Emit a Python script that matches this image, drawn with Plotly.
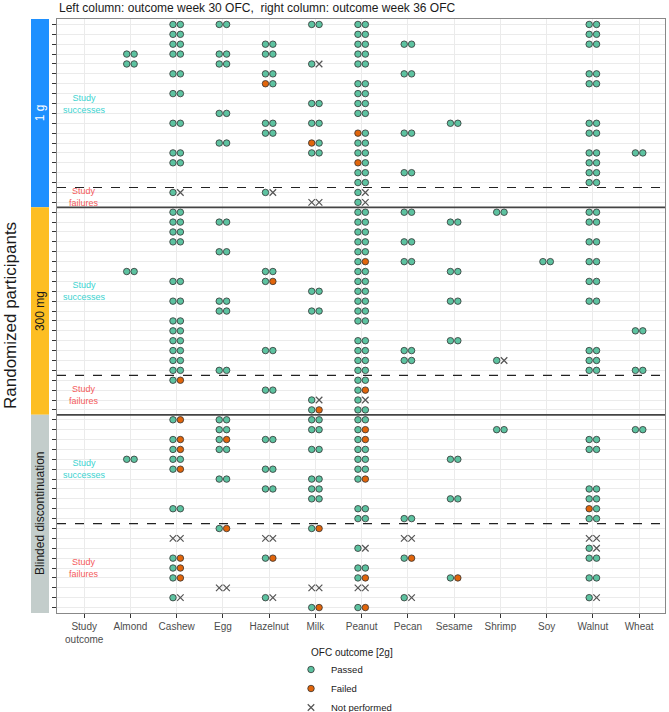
import plotly.graph_objects as go

# ---------------- data ----------------
foods = ["Study outcome", "Almond", "Cashew", "Egg", "Hazelnut", "Milk", "Peanut",
         "Pecan", "Sesame", "Shrimp", "Soy", "Walnut", "Wheat"]
tick_labels = ["Study<br>outcome", "Almond", "Cashew", "Egg", "Hazelnut", "Milk", "Peanut",
               "Pecan", "Sesame", "Shrimp", "Soy", "Walnut", "Wheat"]

# each row = one participant; value = week-30 code + week-36 code
# P = passed, F = failed, X = not performed
g1_success = [
    {"Cashew": "PP", "Egg": "PP", "Milk": "PP", "Peanut": "PP", "Walnut": "PP"},
    {"Cashew": "PP", "Peanut": "PP", "Walnut": "PP"},
    {"Cashew": "PP", "Hazelnut": "PP", "Peanut": "PP", "Pecan": "PP", "Walnut": "PP"},
    {"Almond": "PP", "Cashew": "PP", "Egg": "PP", "Hazelnut": "PP", "Peanut": "PP"},
    {"Almond": "PP", "Egg": "PP", "Milk": "PX", "Peanut": "PP"},
    {"Cashew": "PP", "Hazelnut": "PP", "Pecan": "PP", "Walnut": "PP"},
    {"Hazelnut": "FP", "Peanut": "PP", "Walnut": "PP"},
    {"Cashew": "PP", "Peanut": "PP"},
    {"Milk": "PP", "Peanut": "PP"},
    {"Egg": "PP", "Peanut": "PP"},
    {"Cashew": "PP", "Hazelnut": "PP", "Milk": "PP", "Sesame": "PP", "Walnut": "PP"},
    {"Hazelnut": "PP", "Peanut": "FP", "Pecan": "PP", "Walnut": "PP"},
    {"Egg": "PP", "Milk": "FP", "Peanut": "PP"},
    {"Cashew": "PP", "Milk": "PP", "Peanut": "PP", "Walnut": "PP", "Wheat": "PP"},
    {"Cashew": "PP", "Peanut": "FP", "Walnut": "PP"},
    {"Peanut": "PP", "Pecan": "PP", "Walnut": "PP"},
    {"Peanut": "PP", "Walnut": "PP"},
]
g1_failure = [
    {"Cashew": "PX", "Hazelnut": "PX", "Peanut": "PX"},
    {"Milk": "XX", "Peanut": "PX"},
]
g300_success = [
    {"Cashew": "PP", "Peanut": "PP", "Pecan": "PP", "Shrimp": "PP", "Walnut": "PP"},
    {"Cashew": "PP", "Egg": "PP", "Peanut": "PP", "Sesame": "PP", "Walnut": "PP"},
    {"Cashew": "PP", "Peanut": "PP"},
    {"Cashew": "PP", "Peanut": "PP", "Pecan": "PP", "Walnut": "PP"},
    {"Egg": "PP", "Peanut": "PP"},
    {"Peanut": "PF", "Pecan": "PP", "Soy": "PP", "Walnut": "PP"},
    {"Almond": "PP", "Hazelnut": "PP", "Peanut": "PP", "Sesame": "PP"},
    {"Cashew": "PP", "Hazelnut": "PF", "Peanut": "PP", "Walnut": "PP"},
    {"Milk": "PP", "Peanut": "PP"},
    {"Cashew": "PP", "Egg": "PP", "Peanut": "PP", "Sesame": "PP", "Walnut": "PP"},
    {"Egg": "PP", "Milk": "PP", "Peanut": "PP"},
    {"Cashew": "PP", "Peanut": "PP"},
    {"Cashew": "PP", "Wheat": "PP"},
    {"Cashew": "PP", "Peanut": "PP", "Sesame": "PP"},
    {"Cashew": "PP", "Hazelnut": "PP", "Peanut": "PP", "Pecan": "PP", "Walnut": "PP"},
    {"Cashew": "PP", "Peanut": "PP", "Pecan": "PP", "Shrimp": "PX", "Walnut": "PP"},
    {"Cashew": "PP", "Egg": "PP", "Peanut": "PP", "Walnut": "PP", "Wheat": "PP"},
]
g300_failure = [
    {"Cashew": "PF", "Peanut": "PP"},
    {"Hazelnut": "PP", "Peanut": "PF"},
    {"Milk": "PX", "Peanut": "PX"},
    {"Milk": "PF", "Peanut": "PP"},
]
blind_success = [
    {"Cashew": "PF", "Egg": "PP", "Milk": "PP", "Peanut": "PP"},
    {"Egg": "PP", "Milk": "PP", "Peanut": "PF", "Shrimp": "PP", "Wheat": "PP"},
    {"Cashew": "PF", "Egg": "PF", "Hazelnut": "PP", "Peanut": "PF", "Walnut": "PP"},
    {"Cashew": "PF", "Egg": "PP", "Milk": "PP", "Peanut": "PP", "Walnut": "PP"},
    {"Almond": "PP", "Cashew": "PP", "Peanut": "PP", "Sesame": "PP"},
    {"Cashew": "PF", "Hazelnut": "PP", "Peanut": "PP"},
    {"Egg": "PP", "Milk": "PP", "Peanut": "PF"},
    {"Hazelnut": "PP", "Milk": "PP", "Walnut": "PP"},
    {"Milk": "PP", "Sesame": "PP", "Walnut": "PP"},
    {"Cashew": "PP", "Peanut": "PP", "Walnut": "FP"},
    {"Peanut": "PP", "Pecan": "PP", "Walnut": "PP"},
]
blind_failure = [
    {"Egg": "PF", "Milk": "PF"},
    {"Cashew": "XX", "Hazelnut": "XX", "Pecan": "XX", "Walnut": "XX"},
    {"Peanut": "PX", "Walnut": "PX"},
    {"Cashew": "PF", "Hazelnut": "PF", "Pecan": "PF", "Walnut": "PP"},
    {"Cashew": "PF", "Peanut": "PP"},
    {"Cashew": "PF", "Peanut": "PF", "Sesame": "PF", "Walnut": "PP"},
    {"Egg": "XX", "Milk": "XX", "Peanut": "XX"},
    {"Cashew": "PX", "Hazelnut": "PX", "Pecan": "PX", "Walnut": "PX"},
    {"Milk": "PF", "Peanut": "PF"},
]

groups = [
    ("1 g", g1_success, g1_failure, "#1E90FF", "white"),
    ("300 mg", g300_success, g300_failure, "#FDBE22", "#1a1a1a"),
    ("Blinded discontinuation", blind_success, blind_failure, "#C3CDCB", "#1a1a1a"),
]

outcome_names = {"P": "Passed", "F": "Failed", "X": "Not performed"}

# ---------------- build ----------------
W, H = 669, 712
ML, MR, MT, MB = 57, 4, 19, 99
PW, PH = W - ML - MR, H - MT - MB


def px_x(p):  # pixel -> paper x
    return (p - ML) / PW


def px_y(p):  # pixel -> paper y
    return (H - MB - p) / PH


pts = {"P": ([], []), "F": ([], []), "X": ([], [])}
shapes, annotations = [], []
offset = 0.08
row = 0
n_total = sum(len(s) + len(f) for _, s, f, _, _ in groups)
group_bounds = []
for name, succ, fail, col, tcol in groups:
    start = row
    for part in (succ, fail):
        for r in part:
            for food, code in r.items():
                xi = foods.index(food)
                for k, c in enumerate(code):
                    pts[c][0].append(xi + (-offset if k == 0 else offset))
                    pts[c][1].append(row)
            row += 1
    group_bounds.append((name, start, len(succ), len(fail), col, tcol))

fig = go.Figure()
for c in ["P", "F", "X"]:
    if c == "P":
        mk = dict(symbol="circle", size=6.5, color="#5DC2A0", line=dict(color="#333333", width=0.8))
    elif c == "F":
        mk = dict(symbol="circle", size=6.5, color="#E1650B", line=dict(color="#333333", width=0.8))
    else:
        mk = dict(symbol="x-thin-open", size=6.5, color="#555555", line=dict(color="#555555", width=1.2))
    fig.add_trace(go.Scatter(x=pts[c][0], y=pts[c][1], mode="markers", marker=mk,
                             name=outcome_names[c], hoverinfo="skip", cliponaxis=False))

y_lo, y_hi = -0.55, n_total - 0.45
for gi, (name, start, ns, nf, col, tcol) in enumerate(group_bounds):
    top = start - 0.5 if gi > 0 else y_lo
    bot = start + ns + nf - 0.5 if gi < len(group_bounds) - 1 else y_hi
    # strip
    shapes.append(dict(type="rect", xref="paper", yref="y", x0=px_x(31), x1=px_x(49),
                       y0=top, y1=bot, fillcolor=col, line=dict(width=0), layer="above"))
    annotations.append(dict(xref="paper", yref="y", x=px_x(40), y=(top + bot) / 2, text=name,
                            xanchor="center", yanchor="middle",
                            textangle=-90, showarrow=False, font=dict(size=12, color=tcol)))
    # dashed separator success/failure
    shapes.append(dict(type="line", xref="paper", yref="y", x0=0, x1=1,
                       y0=start + ns - 0.5, y1=start + ns - 0.5,
                       line=dict(color="#222222", width=1.2, dash="dash")))
    if gi > 0:
        shapes.append(dict(type="line", xref="paper", yref="y", x0=0, x1=1,
                           y0=start - 0.5, y1=start - 0.5, line=dict(color="#444444", width=1.8)))
    # study outcome labels
    for lab, n0, n, colr in (("successes", start, ns, "#3CD3D0"), ("failures", start + ns, nf, "#F45B5B")):
        mid = n0 + (n - 1) / 2
        annotations.append(dict(x=0, y=mid, xref="x", yref="y", text="Study<br>" + lab, showarrow=False,
                                xanchor="center", yanchor="middle",
                                font=dict(size=9, color=colr)))

annotations.append(dict(xref="paper", yref="paper", x=px_x(10), y=0.5, text="Randomized participants",
                        xanchor="center", yanchor="middle",
                        textangle=-90, showarrow=False, font=dict(size=17, color="#1a1a1a")))
annotations.append(dict(xref="paper", yref="paper", x=0, y=1.0, yshift=2, xanchor="left", yanchor="bottom",
                        text="Left column: outcome week 30 OFC,  right column: outcome week 36 OFC",
                        showarrow=False, font=dict(size=12, color="#1a1a1a")))
annotations.append(dict(xref="paper", yref="paper", x=px_x(309), y=px_y(652), xanchor="left",
                        yanchor="middle", text="OFC outcome [2g]", showarrow=False,
                        font=dict(size=10, color="#1a1a1a")))

fig.update_layout(
    width=W, height=H,
    margin=dict(l=ML, r=MR, t=MT, b=MB, autoexpand=False),
    plot_bgcolor="white", paper_bgcolor="white",
    font=dict(family="Liberation Sans, Arial, sans-serif", color="#4d4d4d"),
    shapes=shapes, annotations=annotations,
    showlegend=True,
    legend=dict(x=px_x(291), xanchor="left", y=px_y(655), yanchor="top", orientation="v",
                font=dict(size=9.5, color="#1a1a1a"), bgcolor="rgba(0,0,0,0)"),
    xaxis=dict(range=[-0.588, 12.56], tickmode="array", tickvals=list(range(len(foods))),
               ticktext=tick_labels, showgrid=True, gridcolor="#EBEBEB", gridwidth=1,
               zeroline=False, showline=True, mirror=True, linecolor="#888888", linewidth=1,
               ticks="outside", ticklen=4, tickcolor="#333333", tickfont=dict(size=10, color="#4d4d4d")),
    yaxis=dict(range=[y_hi, y_lo], tickmode="array", tickvals=list(range(n_total)),
               ticktext=[""] * n_total, showgrid=True, gridcolor="#EBEBEB", gridwidth=1,
               zeroline=False, showline=True, mirror=True, linecolor="#888888", linewidth=1,
               ticks="outside", ticklen=4, tickcolor="#333333"),
)

# remove the browser's default 8px page margin so the figure fills the window exactly
fig.write_html("out.html", config={"displayModeBar": False},
               post_script="document.body.style.margin='0';document.body.style.overflow='hidden';")
